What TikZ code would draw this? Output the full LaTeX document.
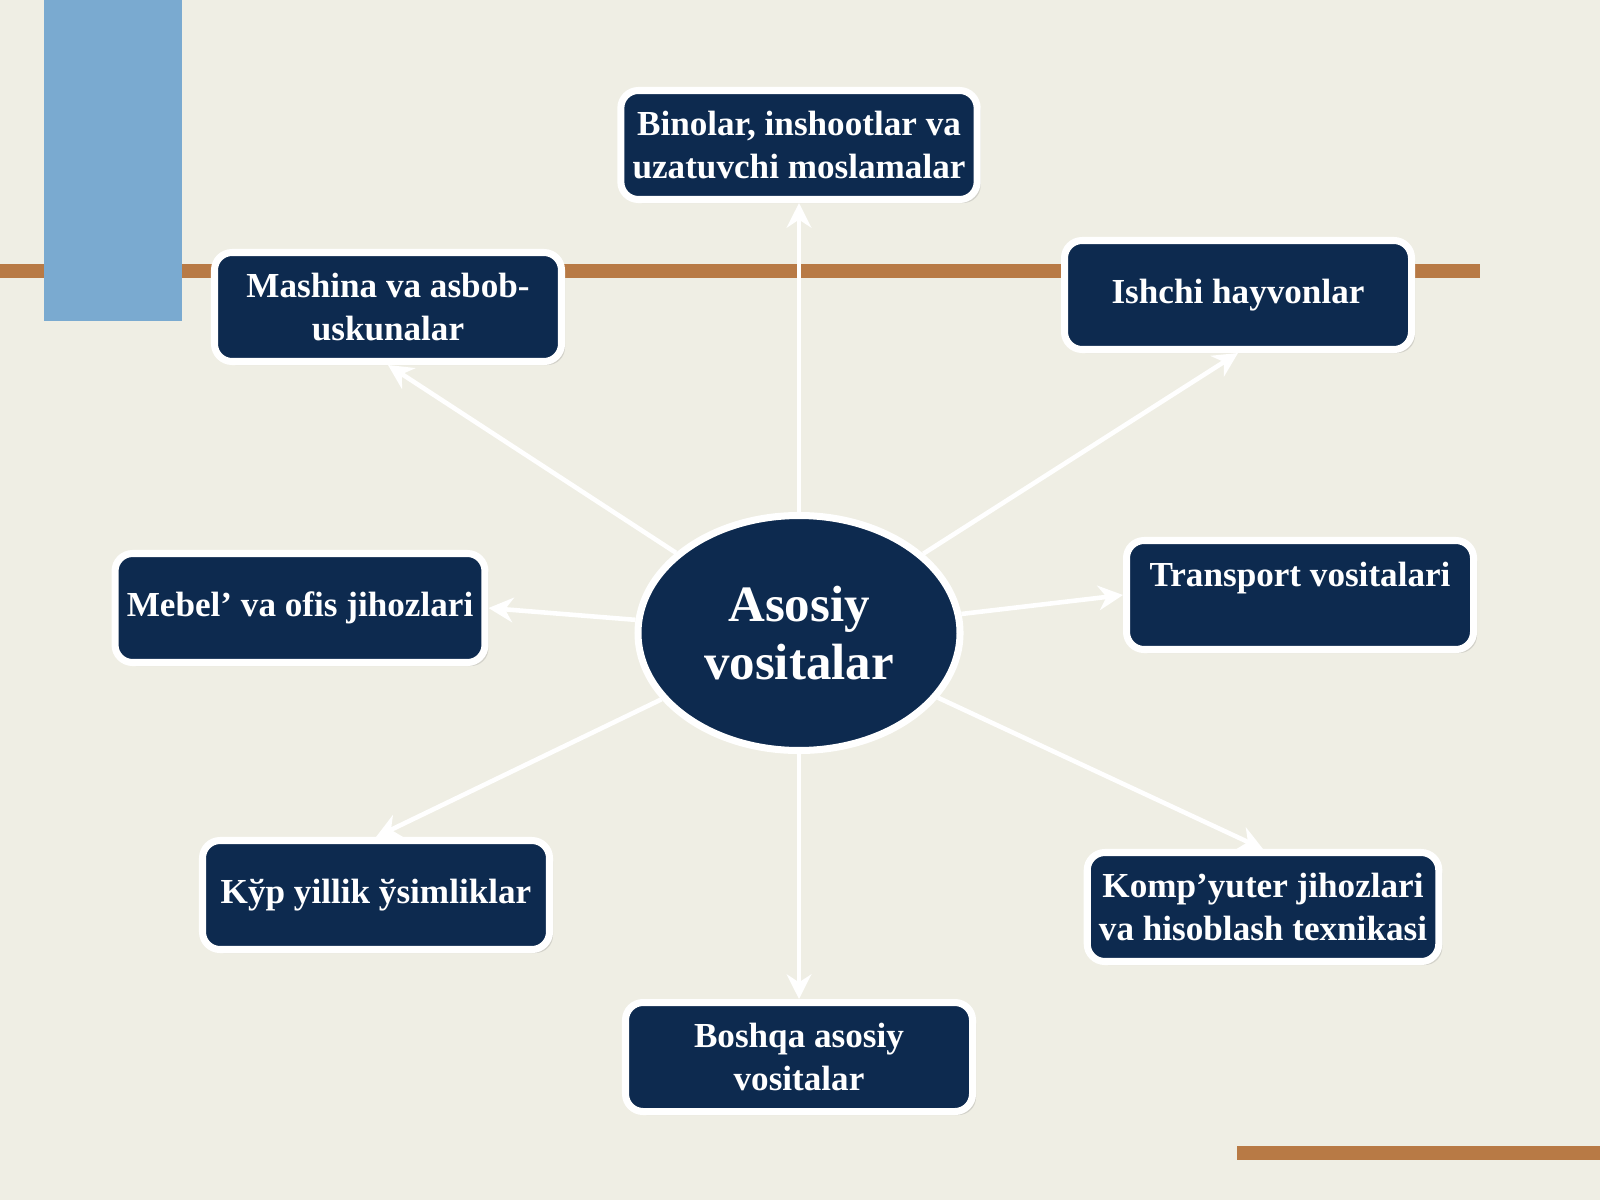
\documentclass[tikz,border=0pt]{standalone}
\usepackage{fontspec}
\setmainfont{Liberation Serif}
\usetikzlibrary{shapes.geometric,arrows.meta,shadows}
\definecolor{paper}{HTML}{EFEEE4}
\definecolor{navy}{HTML}{0D2A4F}
\definecolor{sky}{HTML}{7AAAD0}
\definecolor{rust}{HTML}{B87A45}

\begin{document}
\begin{tikzpicture}[%%
  boxStyle/.style={rectangle,rounded corners=5pt,draw=white,line width=2pt,
    fill=navy,text=white,font=\bfseries\fontsize{10}{12}\selectfont,
    align=center,minimum width=3.47cm,minimum height=1.09cm,
    drop shadow={shadow xshift=1pt,shadow yshift=-1pt,opacity=0.25}},%%
  hubStyle/.style={ellipse,draw=white,line width=2pt,fill=navy,text=white,
    font=\bfseries\fontsize{14.5}{16.5}\selectfont,align=center,
    minimum width=3.22cm,minimum height=2.35cm,inner sep=0pt},%%
  arrowStyle/.style={-{Stealth[length=7pt,width=7pt]},white,line width=1.3pt},%%
  barStyle/.style={rust,line width=4pt}
]
%%
%% The page.
\fill[paper] (0,0) rectangle (16,12);
\useasboundingbox (0,0) rectangle (16,12);
\draw[barStyle] (0,9.29) -- (14.8,9.29);
\draw[barStyle] (12.37,0.47) -- (16,0.47);
\fill[sky] (0.44,8.79) rectangle (1.82,12);
%%
%% The hub and the boxes.
\node[hubStyle] (hub) at (7.99,5.67) {Asosiy\\vositalar};
\node[boxStyle] (bino) at (7.99,10.55) {Binolar, inshootlar va\\uzatuvchi moslamalar};
\node[boxStyle] (mash) at (3.88,8.93) {Mashina va asbob-\\uskunalar};
\node[boxStyle] (ishchi) at (12.38,9.05) {Ishchi hayvonlar};
\node[boxStyle] (mebel) at (3.0,5.92) {Mebel’ va ofis jihozlari};
\node[boxStyle] (trans) at (13.0,6.05) {Transport vositalari\\\phantom{X}};
\node[boxStyle] (kop) at (3.76,3.05) {Kўp yillik ўsimliklar};
\node[boxStyle] (komp) at (12.63,2.93) {Komp’yuter jihozlari\\va hisoblash texnikasi};
\node[boxStyle] (boshqa) at (7.99,1.43) {Boshqa asosiy\\vositalar};
%%
%% The arrows from the hub.
\draw[arrowStyle] (hub) -- (bino.south);
\draw[arrowStyle] (hub) -- (mash.south);
\draw[arrowStyle] (hub) -- (ishchi.south);
\draw[arrowStyle] (hub) -- (mebel.east);
\draw[arrowStyle] (hub) -- (trans.west);
\draw[arrowStyle] (hub) -- (kop.north);
\draw[arrowStyle] (hub) -- (komp.north);
\draw[arrowStyle] (hub) -- (boshqa.north);
\end{tikzpicture}
\end{document}
